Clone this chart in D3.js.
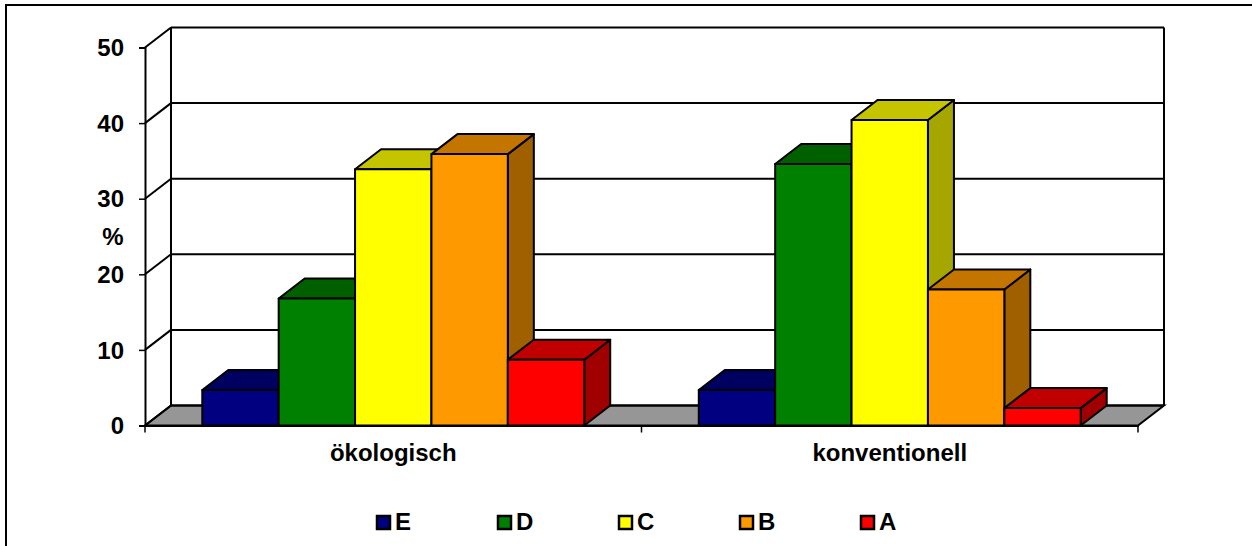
<!DOCTYPE html>
<html><head><meta charset="utf-8">
<script src="https://cdn.jsdelivr.net/npm/d3@7"></script>
<style>html,body{margin:0;padding:0;background:#fff}svg{display:block}
text{font-family:"Liberation Sans",Arial,sans-serif;font-weight:bold;font-size:24px;fill:#000}</style>
</head><body><svg id="c" width="1252" height="546"></svg>
<script>
const categories = ["ökologisch", "konventionell"];
const seriesNames = ["E", "D", "C", "B", "A"];
const valuesE = [4.7, 4.7];
const valuesD = [16.8, 34.6];
const valuesC = [33.9, 40.4];
const valuesB = [35.9, 18.0];
const valuesA = [8.7, 2.3];
const yTicks = [0, 10, 20, 30, 40, 50];
const fronts = ["#000080", "#008000", "#ffff00", "#ff9900", "#ff0000"];
const tops   = ["#000060", "#006000", "#c4c400", "#c47500", "#c00000"];
const sides  = ["#00004c", "#004c00", "#a6a600", "#a06000", "#a00000"];
const seriesValues = [valuesE, valuesD, valuesC, valuesB, valuesA];

const svg = d3.select("#c");
const DX = 26, DY = -20;
const left = 145, right = 1138, bottom = 425.5, topY = 47.5;
const x0 = d3.scaleBand().domain(categories).range([left, right]);
const x1 = d3.scaleBand().domain(seriesNames).range([0, x0.bandwidth()]).paddingOuter(0.75).paddingInner(0);
const y = d3.scaleLinear().domain([0, 50]).range([bottom, topY]);

// frame: only the top and left edges fall inside the picture
svg.append("rect").attr("x", 6).attr("y", 5).attr("width", 1270).attr("height", 560)
  .attr("fill", "#fff").attr("stroke", "#000").attr("stroke-width", 2);

const line = (a, b, c, d) => svg.append("line").attr("x1", a).attr("y1", b).attr("x2", c).attr("y2", d)
  .attr("stroke", "#000").attr("stroke-width", 2);

// floor
svg.append("path")
  .attr("d", d3.line()([[left, bottom], [left + DX, bottom + DY], [right + DX, bottom + DY], [right, bottom]]) + "Z")
  .attr("fill", "#969696").attr("stroke", "#000").attr("stroke-width", 2);

// walls and gridlines
yTicks.forEach(t => {
  line(left, y(t), left + DX, y(t) + DY);
  line(left + DX, y(t) + DY, right + DX, y(t) + DY);
});
line(left + DX, y(0) + DY, left + DX, y(50) + DY);
line(right + DX, y(0) + DY, right + DX, y(50) + DY);

// axes
const ya = svg.append("g").attr("transform", `translate(${left},0)`)
  .call(d3.axisLeft(y).tickValues(yTicks).tickSize(6).tickPadding(15));
ya.selectAll("path").attr("stroke", "#000").attr("stroke-width", 2);
ya.selectAll("line").attr("stroke", "#000").attr("stroke-width", 1.5);
ya.selectAll("text").attr("dy", "0.34em");
ya.attr("font-size", null).attr("font-family", null);

const xa = svg.append("g").attr("transform", `translate(0,${bottom})`)
  .call(d3.axisBottom(x0).tickSize(0).tickPadding(18));
xa.selectAll("path").attr("stroke", "#000").attr("stroke-width", 2);
xa.attr("font-size", null).attr("font-family", null);
xa.selectAll("text").attr("dy", "0.71em");
x0.domain().concat(["end"]).forEach((c, i) => {
  const px = i < categories.length ? x0(c) : right;
  line(px, bottom, px, bottom + 7).attr("stroke-width", 1.5);
});

// bars
categories.forEach((cat, ci) => {
  seriesNames.forEach((s, si) => {
    const v = seriesValues[si][ci];
    const xl = x0(cat) + x1(s), xr = xl + x1.bandwidth(), yt = y(v), yb = y(0);
    const g = svg.append("g").attr("stroke", "#000").attr("stroke-width", 2).attr("stroke-linejoin", "round");
    const lg = d3.line();
    g.append("path").attr("fill", sides[si])
      .attr("d", lg([[xr, yt], [xr + DX, yt + DY], [xr + DX, yb + DY], [xr, yb]]) + "Z");
    g.append("path").attr("fill", tops[si])
      .attr("d", lg([[xl, yt], [xl + DX, yt + DY], [xr + DX, yt + DY], [xr, yt]]) + "Z");
    g.append("rect").attr("x", xl).attr("y", yt).attr("width", xr - xl).attr("height", yb - yt).attr("fill", fronts[si]);
  });
});

// axis title
svg.append("text").attr("x", 113).attr("y", 245).attr("text-anchor", "middle").text("%");

// legend
const lx = d3.scalePoint().domain(seriesNames).range([377, 861]);
seriesNames.forEach((s, i) => {
  svg.append("rect").attr("x", lx(s)).attr("y", 516).attr("width", 13).attr("height", 13)
    .attr("fill", fronts[i]).attr("stroke", "#000").attr("stroke-width", 2.5);
  svg.append("text").attr("x", lx(s) + 18).attr("y", 530).text(s);
});
</script></body></html>
